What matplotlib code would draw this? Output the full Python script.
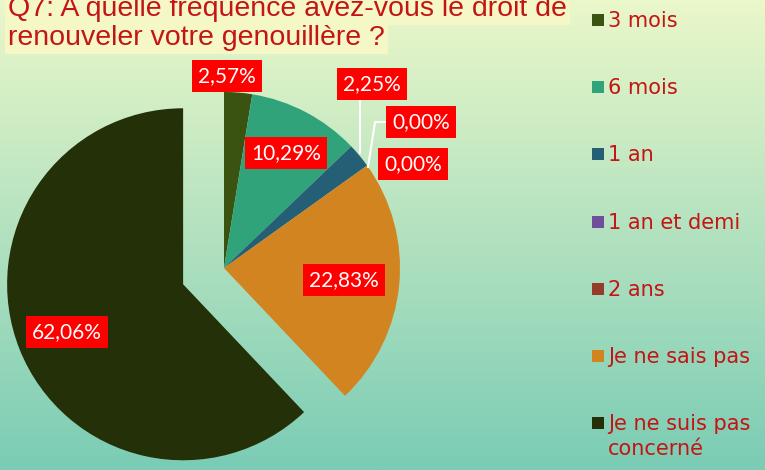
import numpy as np
import matplotlib
matplotlib.use("Agg")
import matplotlib.pyplot as plt
from matplotlib.patches import Rectangle

# --- data ---
categories = ["3 mois", "6 mois", "1 an", "1 an et demi", "2 ans",
              "Je ne sais pas", "Je ne suis pas\nconcerné"]
values = [2.57, 10.29, 2.25, 0.00, 0.00, 22.83, 62.06]
colors = ["#3b5311", "#31a37a", "#245f76", "#6f4e9a", "#963c2a", "#d28421", "#233008"]
explode_flags = [0, 0, 0, 0, 0, 0, 1]

title_lines = ["Q7: A quelle fréquence avez-vous le droit de",
               "renouveler votre genouillère ?"]

# label box centres in pixel coords (x, y from top)
label_pos = [(227, 76), (286, 153), (372, 84), (421, 122), (413, 164), (344, 280), (67, 332)]

W, H = 765, 470
RED = "#c41414"


def py(y):
    # pixel row (from top) -> data y (from bottom)
    return H - y


fig = plt.figure(figsize=(W / 100, H / 100), dpi=100)
ax = fig.add_axes([0, 0, 1, 1])

# --- gradient background ---
top = np.array([0.92, 0.97, 0.79])
bottom = np.array([0.48, 0.80, 0.71])
t = np.linspace(0, 1, 256)[:, None]
grad = top * (1 - t) + bottom * t
ax.imshow(grad[:, None, :].repeat(2, axis=1), extent=[0, W, 0, H], aspect="auto", zorder=0)

# --- pie ---
radius = 176
center = (224, py(268))
explode = [f * 44 for f in explode_flags]
wedges, _ = ax.pie(values, colors=colors, startangle=90, counterclock=False,
                   radius=radius, center=center, explode=explode,
                   wedgeprops=dict(linewidth=0), normalize=True)
for w in wedges:
    w.set_zorder(2)

ax.set_xlim(0, W)
ax.set_ylim(0, H)
ax.set_aspect("equal")
ax.axis("off")

# --- leader lines ---
ax.plot([360, 360], [py(100), py(153)], color="white", lw=1.5, zorder=3)
ax.plot([385, 375, 368], [py(122), py(122), py(167)], color="white", lw=1.5, zorder=3)

# --- data labels ---
for v, (x, y) in zip(values, label_pos):
    txt = f"{v:.2f}".replace(".", ",") + "%"
    ax.text(x, py(y), txt, ha="center", va="center", color="white", fontsize=15,
            family="Lato", zorder=5,
            bbox=dict(boxstyle="square,pad=0.3", facecolor="#ff0000", edgecolor="none"))

# --- title ---
for i, line in enumerate(title_lines):
    ax.text(8, py(16 + i * 29), line, ha="left", va="baseline", color=RED, fontsize=20.5,
            family="Liberation Sans", zorder=6,
            bbox=dict(boxstyle="square,pad=0.1", facecolor="#f5f8c6", edgecolor="none"))

# --- legend (drawn by hand) ---
for i, (name, c) in enumerate(zip(categories, colors)):
    yc = 20 + i * 67.2
    ax.add_patch(Rectangle((592, py(yc) - 6), 12, 12, facecolor=c, edgecolor="none", zorder=4))
    for j, part in enumerate(name.split("\n")):
        ax.text(608, py(yc + j * 25) - 1, part, ha="left", va="center",
                color=RED, fontsize=15, family="DejaVu Sans", zorder=4)

fig.savefig("out.png", dpi=100)
